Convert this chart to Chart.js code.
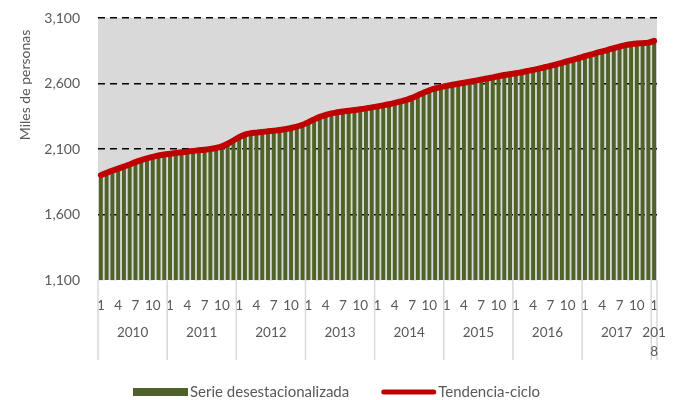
<!DOCTYPE html>
<html>
<head>
<meta charset="utf-8">
<script src="https://cdn.jsdelivr.net/npm/chart.js@4.4.1/dist/chart.umd.min.js"></script>
<style>
  html, body { margin: 0; padding: 0; background: #fff; }
  #wrap { width: 673px; height: 400px; }
</style>
</head>
<body>
<div id="wrap"><canvas id="chart" width="673" height="400"></canvas></div>
<script>
// years and how many months each one has in the series (Jan 2010 - Jan 2018)
const years = ['2010', '2011', '2012', '2013', '2014', '2015', '2016', '2017', '2018'];
const monthsPerYear = [12, 12, 12, 12, 12, 12, 12, 12, 1];
const shownMonths = ['1', '4', '7', '10'];
const yTicks = [1100, 1600, 2100, 2600, 3100];

// seasonally adjusted series, thousands of people
const serieDesest = [
  1880, 1905, 1915, 1935, 1950, 1965, 1985, 2000, 2015, 2025, 2035, 2045,
  2050, 2055, 2062, 2065, 2070, 2078, 2080, 2088, 2095, 2105, 2125, 2150,
  2180, 2195, 2205, 2210, 2215, 2222, 2225, 2232, 2238, 2245, 2255, 2270,
  2290, 2310, 2330, 2345, 2358, 2365, 2372, 2378, 2383, 2390, 2395, 2405,
  2410, 2420, 2428, 2438, 2450, 2460, 2475, 2495, 2515, 2535, 2548, 2558,
  2568, 2575, 2585, 2592, 2600, 2608, 2615, 2625, 2632, 2642, 2650, 2658,
  2665, 2672, 2680, 2690, 2700, 2710, 2720, 2732, 2742, 2755, 2768, 2780,
  2792, 2805, 2818, 2830, 2842, 2855, 2868, 2878, 2888, 2892, 2895, 2900,
  2912
];

// trend-cycle
const tendencia = [
  1900, 1918, 1935, 1950, 1965, 1982, 2000, 2015, 2028, 2040, 2050, 2058,
  2064, 2070, 2075, 2080, 2085, 2090, 2095, 2100, 2108, 2120, 2140, 2165,
  2190, 2210, 2220, 2225, 2230, 2235, 2240, 2245, 2252, 2260, 2270, 2285,
  2305, 2325, 2345, 2360, 2372, 2380, 2387, 2392, 2397, 2403, 2410, 2418,
  2425, 2433, 2442, 2452, 2463, 2475, 2490, 2510, 2530, 2548, 2562, 2572,
  2582, 2590, 2598, 2606, 2614, 2622, 2630, 2638, 2647, 2656, 2665, 2672,
  2678, 2686, 2695, 2704, 2714, 2724, 2735, 2746, 2758, 2770, 2782, 2795,
  2808, 2820, 2833, 2845, 2857, 2870, 2882, 2893, 2900, 2905, 2908, 2912,
  2925
];

// month number labels (1..12 for each year)
const labels = [];
monthsPerYear.forEach(n => {
  for (let m = 1; m <= n; m++) labels.push(String(m));
});

const textColor = '#595959';
const fontFamily = 'Lato, "Liberation Sans", sans-serif';
const barColor = '#4f6228';
const lineColor = '#c00000';

// gray plot background, year row, y title and legend
const decor = {
  id: 'decor',
  beforeDraw(chart) {
    const { ctx, chartArea: a } = chart;
    ctx.save();
    ctx.fillStyle = '#d9d9d9';
    ctx.fillRect(a.left, a.top, a.right - a.left, a.bottom - a.top);
    ctx.restore();
  },
  afterDraw(chart) {
    const { ctx, chartArea: a } = chart;
    const x = chart.scales.x;
    const w = x.width / labels.length;
    ctx.save();
    ctx.strokeStyle = '#d9d9d9';
    ctx.lineWidth = 1.5;
    ctx.fillStyle = textColor;
    ctx.font = '13.5px ' + fontFamily;
    ctx.textAlign = 'center';
    ctx.textBaseline = 'middle';
    let start = 0;
    years.forEach((yr, k) => {
      const n = monthsPerYear[k];
      const left = x.getPixelForValue(start) - w / 2;
      const right = x.getPixelForValue(start + n - 1) + w / 2;
      ctx.beginPath();
      ctx.moveTo(left, a.bottom);
      ctx.lineTo(left, a.bottom + 80);
      ctx.stroke();
      if (k === years.length - 1) {
        ctx.beginPath();
        ctx.moveTo(right, a.bottom);
        ctx.lineTo(right, a.bottom + 80);
        ctx.stroke();
      }
      const cx = (left + right) / 2;
      if (n > 1) {
        ctx.fillText(yr, cx, a.bottom + 53);
      } else {
        ctx.fillText(yr.slice(0, 3), cx, a.bottom + 53);
        ctx.fillText(yr.slice(3), cx, a.bottom + 72);
      }
      start += n;
    });

    // legend: bar swatch, then the line
    const names = chart.data.datasets.map(d => d.label);
    ctx.font = '15px ' + fontFamily;
    ctx.textAlign = 'left';
    const w1 = ctx.measureText(names[1]).width;
    const w2 = ctx.measureText(names[0]).width;
    const total = 55 + 2 + w1 + 32 + 55 + 2 + w2;
    let lx = (chart.width - total) / 2;
    const ly = 392;
    ctx.fillStyle = barColor;
    ctx.fillRect(lx, ly - 4, 55, 8);
    ctx.fillStyle = textColor;
    ctx.fillText(names[1], lx + 57, ly);
    lx += 57 + w1 + 32;
    ctx.strokeStyle = lineColor;
    ctx.lineWidth = 5;
    ctx.lineCap = 'round';
    ctx.beginPath();
    ctx.moveTo(lx + 2.5, ly);
    ctx.lineTo(lx + 52.5, ly);
    ctx.stroke();
    ctx.fillText(names[0], lx + 57, ly);

    // y axis title
    ctx.font = '14px ' + fontFamily;
    ctx.textAlign = 'center';
    ctx.translate(25, 85);
    ctx.rotate(-Math.PI / 2);
    ctx.fillText('Miles de personas', 0, 0);
    ctx.restore();
  }
};

new Chart(document.getElementById('chart'), {
  data: {
    labels: labels,
    datasets: [
      {
        type: 'line',
        label: 'Tendencia-ciclo',
        data: tendencia,
        borderColor: lineColor,
        backgroundColor: lineColor,
        borderWidth: 6,
        borderCapStyle: 'round',
        pointRadius: 0,
        tension: 0.4,
        order: 0
      },
      {
        type: 'bar',
        label: 'Serie desestacionalizada',
        data: serieDesest,
        backgroundColor: barColor,
        borderWidth: 0,
        barPercentage: 0.68,
        categoryPercentage: 1,
        order: 1
      }
    ]
  },
  options: {
    responsive: false,
    animation: false,
    layout: { padding: { left: 0, right: 16, top: 18, bottom: 0 } },
    scales: {
      x: {
        grid: { display: false },
        border: { display: false },
        ticks: {
          autoSkip: false,
          maxRotation: 0,
          padding: 10,
          color: textColor,
          font: { family: fontFamily, size: 13.5 },
          callback: function (val) {
            const l = this.getLabelForValue(val);
            return shownMonths.includes(l) ? l : '';
          }
        },
        afterFit: s => { s.height = 120; s.paddingLeft = 0; s.paddingRight = 0; }
      },
      y: {
        min: 1100,
        max: 3100,
        afterBuildTicks: s => { s.ticks = yTicks.map(v => ({ value: v })); },
        grid: {
          drawTicks: false,
          lineWidth: 1.5,
          color: c => (c.tick && c.tick.value === 1100) ? '#d9d9d9' : '#000'
        },
        border: { display: false, dash: [7, 5] },
        ticks: {
          padding: 18,
          color: textColor,
          font: { family: fontFamily, size: 14 },
          callback: v => v.toLocaleString('en-US')
        },
        afterFit: s => { s.width = 98; s.paddingTop = 0; s.paddingBottom = 0; }
      }
    },
    plugins: {
      legend: { display: false },
      tooltip: { enabled: false }
    }
  },
  plugins: [decor]
});
</script>
</body>
</html>
